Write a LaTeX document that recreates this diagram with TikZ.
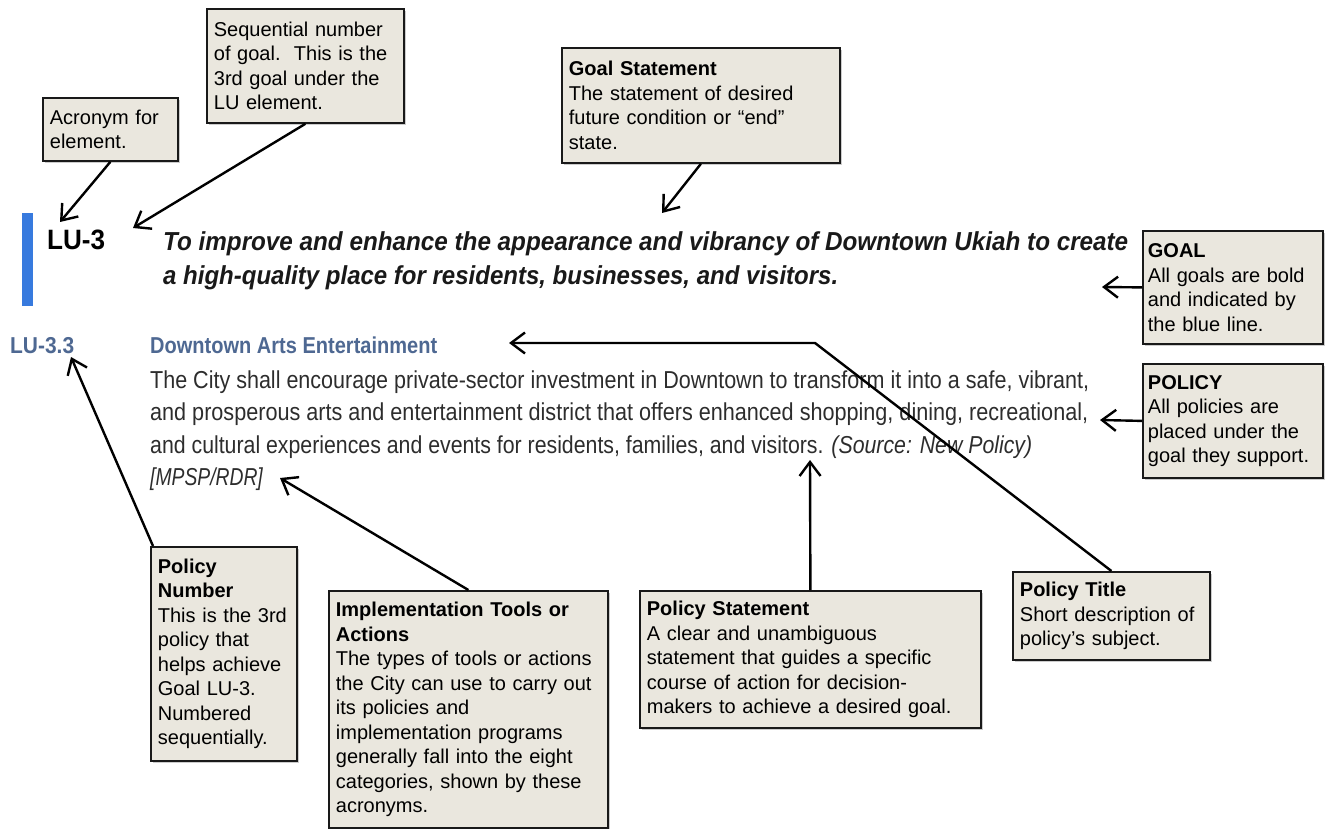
\documentclass[tikz,border=0pt]{standalone}
\usepackage{fontspec}
\setmainfont{Liberation Sans}
\usepackage{graphicx}
\usetikzlibrary{arrows.meta,shadows}

\definecolor{notefill}{RGB}{234,231,222}
\definecolor{goalblue}{RGB}{55,122,222}
\definecolor{titleblue}{RGB}{78,104,146}
\definecolor{bodygrey}{RGB}{45,45,45}

\newcommand{\fitline}[2]{\resizebox{#1}{\height}{#2}}

\begin{document}
\begin{tikzpicture}[x=1pt,y=-1pt,
  note/.style={draw=black!90, line width=1.8pt, fill=notefill, anchor=north west,
    align=left, inner xsep=7pt, inner ysep=0pt, font=\fontsize{20}{24.5}\selectfont,
    drop shadow={shadow xshift=2.5pt, shadow yshift=-2.5pt, opacity=0.4}},
  callout/.style={line width=2.4pt, line join=round, -{Straight Barb[length=14pt,width=21pt,line width=2.4pt]}},
  plain/.style={anchor=base west, inner sep=0pt, text=bodygrey, font=\fontsize{24.5}{33}\selectfont}]
\useasboundingbox (0,0) rectangle (1325,829);

% goal
\fill[goalblue] (22,213) rectangle (33,306);
\node (lu3) [plain, text=black, font=\bfseries\fontsize{28}{30}\selectfont] at (47,250) {\fitline{58pt}{LU-3}};
\node (goalA) [plain, text=black!90, font=\bfseries\itshape\fontsize{26}{30}\selectfont] at (163,251)
  {\fitline{965pt}{To improve and enhance the appearance and vibrancy of Downtown Ukiah to create}};
\node (goalB) [plain, text=black!90, font=\bfseries\itshape\fontsize{26}{30}\selectfont] at (163,284)
  {\fitline{675pt}{a high-quality place for residents, businesses, and visitors.}};

% policy
\node (lu33) [plain, text=titleblue, font=\bfseries\fontsize{23}{26}\selectfont] at (10,353) {\fitline{64pt}{LU-3.3}};
\node (head) [plain, text=titleblue, font=\bfseries\fontsize{23}{26}\selectfont] at (150,353) {\fitline{287pt}{Downtown Arts Entertainment}};
\node (bodyA) [plain] at (150,388) {\fitline{939pt}{The City shall encourage private-sector investment in Downtown to transform it into a safe, vibrant,}};
\node (bodyB) [plain] at (150,420) {\fitline{938pt}{and prosperous arts and entertainment district that offers enhanced shopping, dining, recreational,}};
\node (bodyC) [plain] at (150,453) {\fitline{882pt}{and cultural experiences and events for residents, families, and visitors. \textit{(Source: New Policy)}}};
\node (bodyD) [plain] at (150,485) {\fitline{113pt}{\textit{[MPSP/RDR]}}};

% notes
\node (acr) [note, text width=121pt, minimum height=63pt] at (42,97) {Acronym for\\element.};
\node (seq) [note, text width=183pt, minimum height=114pt] at (206,8)
  {Sequential number\\of goal.\ \ This is the\\3rd goal under the\\LU element.};
\node (gst) [note, text width=264pt, minimum height=115pt] at (561,47)
  {\textbf{Goal Statement}\\The statement of desired\\future condition or ``end''\\state.};
\node (goal) [note, inner xsep=5pt, text width=170pt, minimum height=113pt] at (1142,230)
  {\textbf{GOAL}\\All goals are bold\\and indicated by\\the blue line.};
\node (pol) [note, inner xsep=5pt, text width=170pt, minimum height=114pt] at (1142,363)
  {\textbf{POLICY}\\All policies are\\placed under the\\goal they support.};
\node (pnum) [note, text width=132pt, minimum height=214pt] at (150,546)
  {\textbf{Policy}\\\textbf{Number}\\This is the 3rd\\policy that\\helps achieve\\Goal LU-3.\\Numbered\\sequentially.};
\node (impl) [note, text width=265pt, minimum height=237pt] at (328,590)
  {\textbf{Implementation Tools or}\\\textbf{Actions}\\The types of tools or actions\\the City can use to carry out\\its policies and\\implementation programs\\generally fall into the eight\\categories, shown by these\\acronyms.};
\node (pst) [note, text width=327pt, minimum height=137pt] at (639,590)
  {\textbf{Policy Statement}\\A clear and unambiguous\\statement that guides a specific\\course of action for decision-\\makers to achieve a desired goal.};
\node (ptitle) [note, text width=183pt, minimum height=88pt] at (1012,571)
  {\textbf{Policy Title}\\Short description of\\policy's subject.};

% arrow tips
\coordinate (acrTip) at (60,222);
\coordinate (seqTip) at (133,228);
\coordinate (gstTip) at (662,213);
\coordinate (goalTip) at (1102,287);
\coordinate (polTip) at (1100,420);
\coordinate (pnumTip) at (71,357);
\coordinate (implTip) at (280,478);
\coordinate (pstTip) at (810,460);
\coordinate (titleBend) at (815,343);
\coordinate (titleTip) at (509,343);

\draw[callout] (acr.south) -- (acrTip);
\draw[callout] (seq.south) -- (seqTip);
\draw[callout] (gst.south) -- (gstTip);
\draw[callout] (goal.west) -- (goalTip);
\draw[callout] (pol.west) -- (polTip);
\draw[callout] ([xshift=3pt]pnum.north west) -- (pnumTip);
\draw[callout] (impl.north) -- (implTip);
\draw[callout] (pst.north) -- (pstTip);
\draw[callout] (ptitle.north) -- (titleBend) -- (titleTip);
\end{tikzpicture}
\end{document}
